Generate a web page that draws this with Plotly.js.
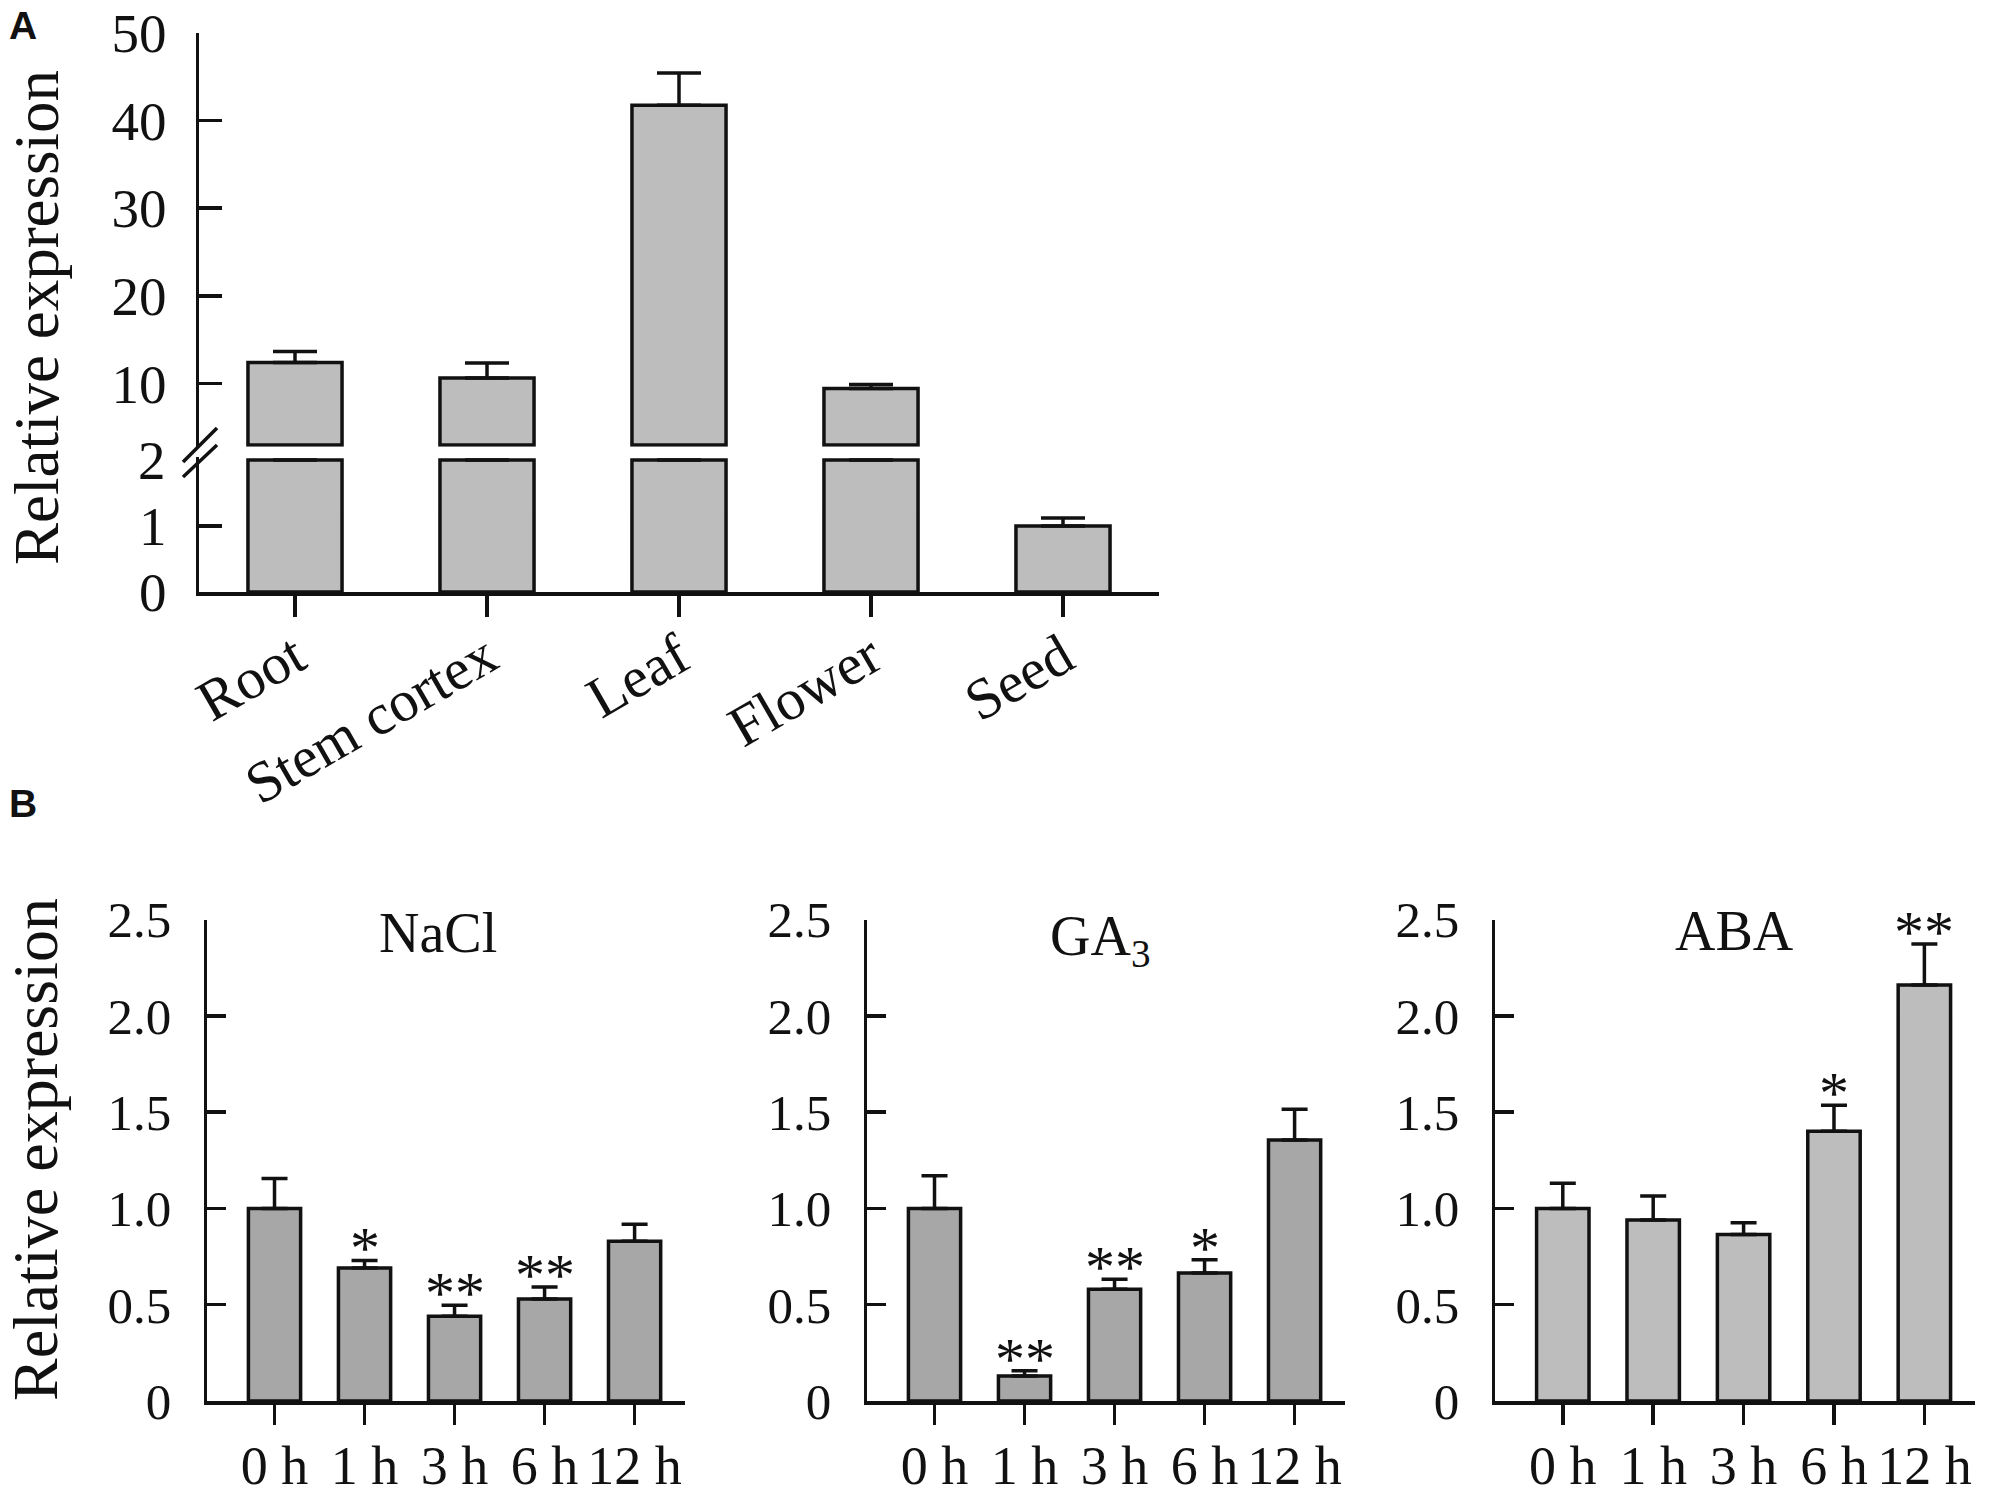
<!DOCTYPE html>
<html>
<head>
<meta charset="utf-8">
<script src="https://cdn.plot.ly/plotly-3.0.1.min.js"></script>
<style>
  html, body { margin: 0; padding: 0; background: #fff; }
  #chart { width: 1998px; height: 1500px; }
</style>
</head>
<body>
<div id="chart"></div>
<script>
// Panel A: expression in tissues (y axis broken between 2 and 3)
var tissues = ['Root', 'Stem cortex', 'Leaf', 'Flower', 'Seed'];
var tissueExpr = [12.4, 10.65, 41.7, 9.45, 1.0];
var tissueErr = [1.25, 1.7, 3.7, 0.45, 0.12];

// Panel B: time course after treatment
var times = ['0 h', '1 h', '3 h', '6 h', '12 h'];
var naclExpr = [1.00, 0.69, 0.44, 0.53, 0.83];
var naclErr = [0.155, 0.04, 0.057, 0.062, 0.088];
var naclSig = ['', '*', '**', '**', ''];
var ga3Expr = [1.00, 0.13, 0.58, 0.665, 1.355];
var ga3Err = [0.17, 0.027, 0.052, 0.068, 0.16];
var ga3Sig = ['', '**', '**', '*', ''];
var abaExpr = [1.00, 0.94, 0.865, 1.40, 2.16];
var abaErr = [0.13, 0.125, 0.06, 0.135, 0.213];
var abaSig = ['', '', '', '*', '**'];

var breakLow = 2, breakHigh = 3;

var W = 1998, H = 1500;
function fx(px) { return px / W; }
function fy(px) { return 1 - px / H; }

var serif = 'Liberation Serif, Times New Roman, serif';
var sans = 'Liberation Sans, Arial, sans-serif';
var lw = 3.5;

// lower part of the broken bars
var lowerBars = {
  x: tissues,
  y: tissueExpr.map(function (v) { return Math.min(v, breakLow); }),
  type: 'bar', width: 0.49, xaxis: 'x', yaxis: 'y',
  marker: { color: '#bdbdbd', line: { color: '#111', width: lw } },
  error_y: {
    type: 'data', symmetric: false,
    array: tissueExpr.map(function (v, i) { return v <= breakLow ? tissueErr[i] : NaN; }),
    arrayminus: tissueExpr.map(function () { return 0; }),
    color: '#111', thickness: 3.5, width: 22
  }
};

// upper part, drawn from the break upward
var upperBars = {
  x: tissues,
  y: tissueExpr.map(function (v) { return v > breakHigh ? v - breakHigh : null; }),
  base: breakHigh,
  type: 'bar', width: 0.49, xaxis: 'x', yaxis: 'y2',
  marker: { color: '#bdbdbd', line: { color: '#111', width: lw } },
  error_y: {
    type: 'data', symmetric: false,
    array: tissueErr, arrayminus: tissueErr.map(function () { return 0; }),
    color: '#111', thickness: 3.5, width: 22
  }
};

function timeBars(vals, errs, color, xa, ya) {
  return {
    x: times, y: vals, type: 'bar', width: 0.58, xaxis: xa, yaxis: ya,
    marker: { color: color, line: { color: '#111', width: lw } },
    error_y: {
      type: 'data', symmetric: false, array: errs,
      arrayminus: errs.map(function () { return 0; }),
      color: '#111', thickness: 3.5, width: 13
    }
  };
}

var data = [
  lowerBars, upperBars,
  timeBars(naclExpr, naclErr, '#a7a7a7', 'x2', 'y3'),
  timeBars(ga3Expr, ga3Err, '#a7a7a7', 'x3', 'y4'),
  timeBars(abaExpr, abaErr, '#bdbdbd', 'x4', 'y5')
];

var common = {
  showgrid: false, zeroline: false, showline: true,
  linecolor: '#111', linewidth: lw, tickcolor: '#111', tickwidth: lw,
  fixedrange: true
};
function ax(extra) { return Object.assign({}, common, extra); }

var tickFontA = { family: serif, size: 55, color: '#111' };
var tickFontB = { family: serif, size: 51, color: '#111' };
var timeFont = { family: serif, size: 54, color: '#111' };

var bY = { domain: [fy(1401), fy(919.5)], range: [0, 2.5], ticks: 'inside', ticklen: 19,
  tickvals: [0, 0.5, 1, 1.5, 2, 2.5], ticktext: ['0', '0.5', '1.0', '1.5', '2.0', '2.5'],
  tickfont: tickFontB, ticklabelstandoff: 22 };
var bX = { range: [-0.75, 4.56], type: 'category', ticks: 'outside', ticklen: 20,
  tickfont: timeFont, ticklabelstandoff: -5 };

var layout = {
  width: W, height: H,
  margin: { l: 0, r: 0, t: 0, b: 0 },
  paper_bgcolor: '#fff', plot_bgcolor: 'rgba(0,0,0,0)',
  showlegend: false, barmode: 'overlay',
  xaxis: ax({ domain: [fx(199), fx(1159)], anchor: 'y', type: 'category', range: [-0.5, 4.5],
    ticks: 'outside', ticklen: 21, tickangle: -30, ticklabelstandoff: -16,
    tickfont: { family: serif, size: 58, color: '#111' } }),
  yaxis: ax({ domain: [fy(592), fy(457.4)], anchor: 'x', range: [0, 2.04],
    ticks: 'inside', ticklen: 23, tickvals: [0, 1], ticktext: ['0', '1'],
    tickfont: tickFontA, ticklabelstandoff: 18 }),
  yaxis2: ax({ domain: [fy(446.8), fy(32.5)], anchor: 'x', range: [2.8, 50],
    ticks: 'inside', ticklen: 23, tickvals: [10, 20, 30, 40, 50],
    tickfont: tickFontA, ticklabelstandoff: 18 }),
  xaxis2: ax(Object.assign({ domain: [fx(207), fx(685)], anchor: 'y3' }, bX)),
  yaxis3: ax(Object.assign({ anchor: 'x2' }, bY)),
  xaxis3: ax(Object.assign({ domain: [fx(867), fx(1345)], anchor: 'y4' }, bX)),
  yaxis4: ax(Object.assign({ anchor: 'x3' }, bY)),
  xaxis4: ax(Object.assign({ domain: [fx(1495), fx(1975)], anchor: 'y5' }, bX)),
  yaxis5: ax(Object.assign({ anchor: 'x4' }, bY)),
  shapes: [
    // axis break marks
    { type: 'line', xref: 'paper', yref: 'paper', x0: fx(183), y0: fy(477), x1: fx(217), y1: fy(445),
      line: { color: '#111', width: lw } },
    { type: 'line', xref: 'paper', yref: 'paper', x0: fx(183), y0: fy(462), x1: fx(217), y1: fy(428),
      line: { color: '#111', width: lw } }
  ],
  annotations: []
};

var ann = layout.annotations;
function label(text, x, y, font, extra) {
  ann.push(Object.assign({ text: text, xref: 'paper', yref: 'paper', x: x, y: y,
    xanchor: 'center', yanchor: 'middle', showarrow: false, font: font }, extra || {}));
}
function serifFont(size) { return { family: serif, size: size, color: '#111' }; }

label('<b>A</b>', fx(23), fy(25), { family: sans, size: 39, color: '#111' });
label('<b>B</b>', fx(23), fy(803), { family: sans, size: 39, color: '#111' });
label('Relative expression', fx(37), fy(318), serifFont(63), { textangle: -90 });
label('Relative expression', fx(35), fy(1150), serifFont(64), { textangle: -90 });
// tick label at the break
ann.push({ text: String(breakLow), xref: 'paper', yref: 'y', x: fx(168), y: breakLow,
  xanchor: 'right', yanchor: 'middle', showarrow: false, font: tickFontA });

label('NaCl', fx(438), fy(933), serifFont(56));
label('GA<sub>3</sub>', fx(1100), fy(940), serifFont(56));
label('ABA', fx(1734), fy(931), serifFont(56));

function stars(sig, vals, errs, xa, ya) {
  sig.forEach(function (s, i) {
    if (!s) return;
    ann.push({ text: s, x: times[i], y: vals[i] + errs[i], xref: xa, yref: ya,
      xanchor: 'center', yanchor: 'bottom', yshift: -23, showarrow: false,
      font: serifFont(60) });
  });
}
stars(naclSig, naclExpr, naclErr, 'x2', 'y3');
stars(ga3Sig, ga3Expr, ga3Err, 'x3', 'y4');
stars(abaSig, abaExpr, abaErr, 'x4', 'y5');

Plotly.newPlot('chart', data, layout, { displayModeBar: false, staticPlot: true });
</script>
</body>
</html>
